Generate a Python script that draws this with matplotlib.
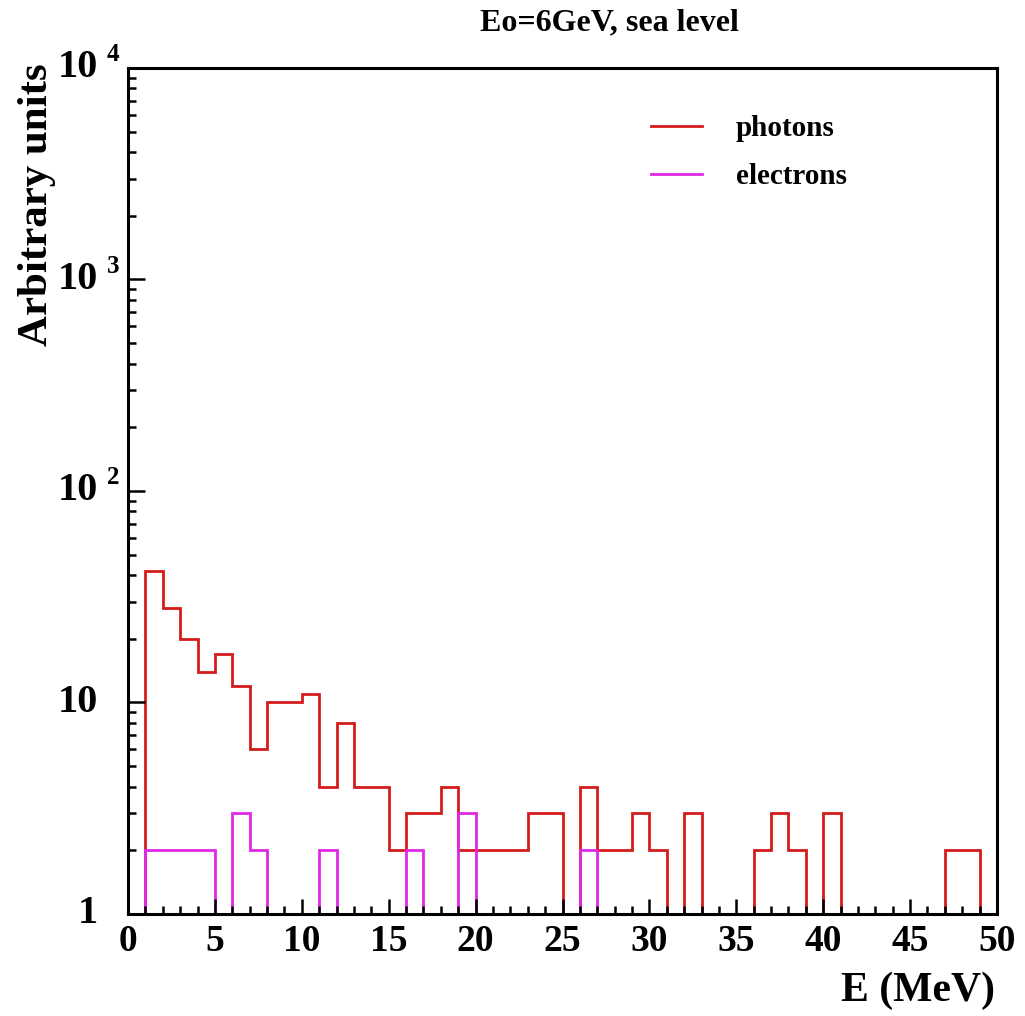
import numpy as np
import matplotlib
matplotlib.use('Agg')
import matplotlib.pyplot as plt
import matplotlib.transforms as mtransforms
from matplotlib.ticker import FixedLocator, NullFormatter, MultipleLocator

plt.rcParams['font.family'] = 'Liberation Serif'
plt.rcParams['font.weight'] = 'bold'

# 1 MeV bins from 0 to 50
bin_edges = np.arange(0, 51, 1)
photons = [0, 42, 28, 20, 14, 17, 12, 6, 10, 10,
           11, 4, 8, 4, 4, 2, 3, 3, 4, 2,
           2, 2, 2, 3, 3, 0, 4, 2, 2, 3,
           2, 0, 3, 0, 0, 0, 2, 3, 2, 0,
           3, 0, 0, 0, 0, 0, 0, 2, 2, 0]
electrons = [0, 2, 2, 2, 2, 0, 3, 2, 0, 0,
             0, 2, 0, 0, 0, 0, 2, 0, 0, 3,
             0, 0, 0, 0, 0, 0, 2, 0, 0, 0,
             0, 0, 0, 0, 0, 0, 0, 0, 0, 0,
             0, 0, 0, 0, 0, 0, 0, 0, 0, 0]
y_ticks = [1, 10, 100, 1000, 10000]
y_base = ['1', '10', '10', '10', '10']
y_exp = ['', '', '2', '3', '4']

fig = plt.figure(figsize=(10.25, 10.16), dpi=100)
ax = fig.add_axes([0.1249, 0.1004, 0.8478, 0.8327])

# empty bins are drawn on the floor of the log axis, as ROOT does
ph = np.maximum(np.array(photons, dtype=float), 1)
el = np.maximum(np.array(electrons, dtype=float), 1)
ax.stairs(ph, bin_edges, color='#d41c1c', lw=2.0, label='photons')
ax.stairs(el, bin_edges, color='#e028e6', lw=2.0, label='electrons')

ax.set_yscale('log')
ax.set_xlim(0, 50)
ax.set_ylim(1, 10000)

ax.yaxis.set_major_locator(FixedLocator(y_ticks))
ax.yaxis.set_major_formatter(NullFormatter())
minors = [m * 10 ** d for d in range(4) for m in range(2, 10)]
ax.yaxis.set_minor_locator(FixedLocator(minors))
ax.yaxis.set_minor_formatter(NullFormatter())
ax.xaxis.set_major_locator(MultipleLocator(5))
ax.xaxis.set_minor_locator(MultipleLocator(1))

ax.tick_params(axis='both', which='both', direction='in', width=1.8,
               top=False, right=False)
ax.tick_params(axis='x', which='major', length=11, labelsize=27, pad=7)
ax.tick_params(axis='x', which='minor', length=5.5)
ax.tick_params(axis='y', which='major', length=12)
ax.tick_params(axis='y', which='minor', length=6)
for s in ax.spines.values():
    s.set_linewidth(2.2)

# ROOT style y labels: "10" with a separate exponent
trans = mtransforms.blended_transform_factory(ax.transAxes, ax.transData)
for v, b, e in zip(y_ticks, y_base, y_exp):
    ax.annotate(b, xy=(0, v), xycoords=trans, xytext=(-30, 0),
                textcoords='offset pixels', ha='right', va='center',
                fontsize=29, fontweight='bold', annotation_clip=False)
    if e:
        ax.annotate(e, xy=(0, v), xycoords=trans, xytext=(-21, 13),
                    textcoords='offset pixels', ha='left', va='center',
                    fontsize=18, fontweight='bold', annotation_clip=False)

fig.text(0.5945, 0.977, 'Eo=6GeV, sea level', ha='center', va='center',
         fontsize=23, fontweight='bold')
fig.text(0.971, 0.025, 'E (MeV)', ha='right', va='center',
         fontsize=30, fontweight='bold')
fig.text(0.036, 0.799, 'Arbitrary units', ha='center', va='center',
         rotation=90, fontsize=31, fontweight='bold')

ax.legend(loc='upper left', bbox_to_anchor=(0.572, 0.975), frameon=False,
          fontsize=21, handlelength=1.75, handletextpad=1.15,
          labelspacing=0.72)

fig.savefig('out.png', dpi=100)
